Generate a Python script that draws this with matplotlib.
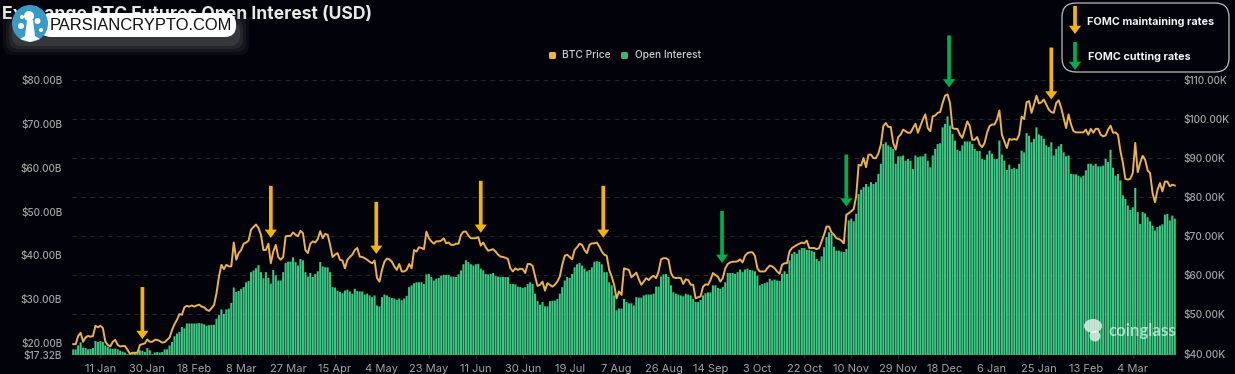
import matplotlib
matplotlib.use("Agg")
import matplotlib.pyplot as plt
from matplotlib.patches import FancyBboxPatch, FancyArrowPatch, Polygon, Ellipse
from matplotlib.transforms import Affine2D

open_interest_b = [
 18.6,18.6,19.5,20.2,19.0,18.9,18.6,18.7,18.9,20.5,
 20.3,20.5,20.3,19.5,19.2,18.8,18.7,18.8,18.6,18.3,
 18.1,17.9,17.5,17.5,17.7,17.8,18.0,18.4,18.3,18.0,
 18.9,18.4,17.5,17.9,18.0,17.9,18.0,18.6,18.6,19.5,
 20.3,21.6,22.2,22.6,23.7,23.4,24.5,24.5,24.5,24.5,
 24.5,24.6,24.5,24.3,24.0,24.1,24.2,24.2,25.6,26.4,
 27.7,26.7,27.7,27.9,29.2,32.7,31.7,31.9,32.4,32.8,
 33.9,34.2,36.2,36.6,37.1,37.8,36.2,34.8,36.2,34.9,
 33.6,36.7,35.5,34.3,34.3,36.2,38.3,38.6,38.6,39.6,
 38.5,37.7,39.2,38.9,36.2,35.2,36.0,35.1,35.8,36.4,
 38.5,37.5,37.3,37.3,36.2,32.8,32.7,32.0,31.7,31.4,
 32.0,32.2,31.8,31.3,32.4,31.9,31.8,31.8,31.1,31.3,
 30.9,30.5,30.9,28.6,28.4,30.5,31.1,30.9,30.5,30.3,
 30.2,29.9,30.2,29.8,30.2,30.8,32.8,33.2,33.7,33.9,
 33.9,33.9,33.5,35.7,35.8,35.1,34.3,34.7,34.9,35.4,
 35.6,35.6,35.6,35.2,35.2,35.1,35.7,36.6,38.0,38.9,
 38.5,38.0,37.7,38.0,38.1,37.0,36.6,35.8,35.7,35.8,
 36.0,35.4,35.2,35.1,35.1,35.1,35.1,33.5,33.5,33.4,
 32.9,32.8,32.6,32.8,33.5,33.9,33.5,31.3,29.6,28.8,
 29.4,28.4,28.4,29.6,29.7,29.7,30.1,31.3,32.8,34.3,
 35.1,34.9,35.8,37.3,38.0,38.3,37.7,37.0,36.4,36.7,
 37.3,38.6,38.7,38.5,38.0,36.2,36.2,33.9,33.2,30.9,
 27.5,27.9,27.9,30.1,29.4,29.1,29.1,28.6,30.5,30.4,
 30.4,30.9,31.1,31.1,31.1,31.3,32.9,32.9,35.2,35.7,
 35.8,35.1,33.2,31.6,31.3,31.1,30.9,30.7,31.3,31.1,
 30.9,30.1,29.4,29.4,29.9,30.9,31.4,31.6,31.6,33.2,
 33.2,32.6,32.4,32.8,33.9,36.0,36.0,36.0,35.8,36.2,
 36.8,36.2,36.8,37.0,36.7,36.6,36.4,35.4,33.2,33.5,
 33.7,33.9,34.7,34.3,34.5,34.3,34.2,35.8,36.4,35.8,
 38.9,40.4,40.8,40.4,41.3,41.7,41.7,41.3,41.3,41.1,
 40.8,39.2,38.7,39.8,41.9,44.2,45.3,44.9,42.0,41.1,
 41.1,40.9,40.8,41.5,48.0,48.4,47.8,49.5,54.0,55.0,
 55.6,56.3,55.7,56.7,56.3,56.7,58.6,60.9,65.4,65.8,
 65.1,64.7,64.3,60.9,62.6,62.6,62.8,61.6,62.0,61.6,
 59.7,62.8,62.4,62.6,62.6,63.2,61.6,60.1,62.8,64.3,
 65.4,65.6,69.2,70.0,71.7,69.6,67.7,66.2,64.1,63.8,
 65.1,66.0,66.0,66.0,65.4,64.3,63.8,63.8,62.0,61.8,
 63.0,63.9,63.2,62.0,62.0,66.2,63.0,61.6,59.5,60.7,
 59.7,60.0,59.7,60.9,63.9,63.5,67.9,67.3,65.8,66.6,
 69.2,67.6,67.3,66.6,65.1,64.7,65.8,62.8,64.3,64.9,
 65.4,63.5,62.6,62.8,58.6,58.5,58.5,58.2,57.8,58.2,
 59.4,60.9,60.9,60.5,60.9,60.3,60.3,60.5,62.0,61.3,
 64.1,60.0,58.2,58.6,57.1,53.7,52.9,51.4,50.4,51.0,
 55.4,49.9,47.2,49.9,49.6,48.7,47.8,46.8,45.7,46.5,
 46.8,47.1,49.3,49.5,48.0,49.1,48.4]

btc_price_k = [
 42.4,42.4,44.5,45.3,43.0,44.1,44.5,44.3,44.5,47.1,
 46.7,47.1,46.5,43.0,42.2,41.8,43.0,43.5,42.2,41.8,
 41.9,41.9,40.9,39.9,40.2,40.2,40.2,42.2,42.4,42.6,
 43.6,43.0,43.0,43.5,43.5,43.2,42.8,42.9,43.5,44.1,
 46.0,47.5,48.6,50.1,49.9,51.8,52.2,52.0,52.3,52.0,
 52.3,52.5,52.0,51.8,51.2,50.9,51.6,52.4,55.4,59.7,
 62.7,61.6,62.7,62.3,62.3,68.4,64.0,65.7,66.5,68.1,
 68.4,68.9,71.7,72.4,73.0,72.1,70.4,66.5,66.5,68.1,
 63.1,66.1,67.8,64.7,64.0,64.7,70.0,70.1,70.1,71.0,
 70.4,70.0,71.4,70.8,66.5,65.7,68.1,68.7,68.4,69.3,
 71.3,69.5,70.6,70.4,67.8,64.7,65.3,65.7,64.0,63.8,
 61.8,64.0,64.7,65.3,66.5,67.0,64.8,64.7,64.4,64.0,
 63.5,63.1,63.8,59.3,58.4,61.4,63.5,64.3,64.1,63.5,
 62.3,61.4,62.9,61.0,61.0,61.4,62.9,61.8,66.5,66.1,
 67.2,67.0,66.7,71.2,69.5,68.7,68.1,68.7,68.7,68.9,
 69.5,68.2,68.4,67.8,67.8,68.1,68.1,70.4,71.2,71.2,
 70.2,69.5,69.5,69.5,69.8,67.6,68.4,67.2,66.3,66.5,
 66.7,66.1,65.3,64.8,64.7,64.5,64.2,61.8,61.0,61.8,
 61.4,61.7,61.6,60.6,62.9,62.9,62.4,59.7,57.3,57.6,
 58.4,56.1,58.0,57.6,57.1,57.6,58.4,59.7,62.7,65.0,
 65.3,64.7,64.1,66.5,67.2,68.1,67.8,66.5,65.7,67.8,
 68.2,68.2,68.4,67.4,66.1,65.3,65.0,61.4,59.7,57.6,
 54.1,55.9,55.0,61.8,61.6,61.4,59.5,60.1,60.7,59.0,
 57.6,58.4,59.3,58.8,59.5,59.9,59.3,61.0,64.1,64.4,
 64.4,64.0,60.6,59.5,59.3,59.4,59.3,57.8,59.0,58.8,
 57.6,57.6,54.1,54.4,54.6,57.1,57.7,57.6,58.8,60.6,
 60.1,59.7,58.4,59.3,61.8,62.9,63.3,63.5,63.5,63.6,
 64.1,63.3,65.0,65.7,65.9,65.9,65.0,61.8,61.0,61.0,
 61.0,61.8,62.5,62.3,61.8,61.0,60.4,62.7,63.1,63.1,
 66.1,67.0,67.4,67.8,68.1,68.4,68.2,68.9,67.0,67.0,
 67.0,66.7,67.0,68.7,70.4,72.5,72.5,71.0,70.4,69.5,
 69.3,68.9,68.2,75.5,75.9,76.4,77.0,80.2,88.3,88.1,
 90.0,87.7,90.9,90.9,90.0,90.0,91.2,93.5,98.2,99.0,
 98.0,98.0,93.9,92.2,95.4,96.0,97.3,96.9,96.5,96.5,
 97.7,98.8,96.5,98.2,99.9,101.2,97.7,96.9,100.7,100.9,
 101.6,101.8,104.1,106.0,106.3,104.1,97.7,97.5,97.5,96.0,
 95.2,97.3,99.4,98.2,94.7,94.7,95.4,93.5,92.8,93.9,
 96.5,98.2,98.6,98.6,99.9,102.2,96.0,94.3,92.6,94.9,
 94.7,94.9,94.7,96.0,100.6,100.0,104.3,104.6,101.6,103.7,
 106.0,104.0,104.3,105.0,103.7,102.4,101.8,101.6,104.1,104.8,
 102.9,100.3,97.7,101.2,98.6,96.9,96.6,96.6,96.6,96.6,
 97.3,96.0,97.5,96.5,97.5,97.5,96.0,95.6,95.8,97.3,
 98.3,96.5,96.6,96.0,91.8,88.8,84.7,84.5,84.7,86.2,
 93.9,86.4,88.8,90.6,89.6,86.9,86.2,81.1,78.7,81.9,
 83.6,81.5,84.0,84.0,82.8,83.2,83.0]

x_tick_days = [11, 30, 49, 68, 87, 106, 125, 144, 163, 182, 201, 220,
               239, 258, 277, 296, 315, 334, 353, 372, 391, 410, 429]
x_tick_labels = ["11 Jan", "30 Jan", "18 Feb", "8 Mar", "27 Mar", "15 Apr", "4 May", "23 May",
                 "11 Jun", "30 Jun", "19 Jul", "7 Aug", "26 Aug", "14 Sep", "3 Oct", "22 Oct",
                 "10 Nov", "29 Nov", "18 Dec", "6 Jan", "25 Jan", "13 Feb", "4 Mar"]
left_ticks = [17.32, 20, 30, 40, 50, 60, 70, 80]
right_ticks = [40, 50, 60, 70, 80, 90, 100, 110]

hold_days = [28, 80, 122.7, 165, 214.6, 396]
hold_tips = [43.7, 69.6, 65.5, 70.9, 69.6, 105.0]
cut_days = [262.7, 313, 354.6]
cut_tips = [63.2, 77.6, 108.1]

BG = "#02030A"
ORANGE = "#F5B400"
GREEN = "#00AD4E"
LINE = "#EDB24A"
BAR = "#3DC884"
LEGEND_BAR = "#36B778"
GREY = "#A3A3A3"
W, H = 1235, 374

plt.rcParams["font.family"] = ["Inter", "DejaVu Sans"]
fig = plt.figure(figsize=(W / 100, H / 100), dpi=100, facecolor=BG)
rect = [72 / W, 1 - 355 / H, (1176 - 72) / W, (355 - 80) / H]
px = Affine2D().scale(1 / W, -1 / H).translate(0, 1) + fig.transFigure

days = list(range(len(open_interest_b)))
xlim = (-0.5, len(days) - 0.5)

ax_r = fig.add_axes(rect, facecolor=BG, zorder=1)
ax_r.set_xlim(xlim)
ax_r.set_ylim(39.62, 110)
ax_r.yaxis.tick_right()
ax_r.set_yticks(right_ticks)
ax_r.set_yticklabels([f"${v:.2f}K" for v in right_ticks], color=GREY, fontsize=7.3, fontweight="medium")
ax_r.tick_params(axis="y", length=0, pad=5.5)
ax_r.set_xticks([])
ax_r.grid(axis="y", color="#262626", lw=0.8, dashes=(4, 4))
ax_r.set_axisbelow(True)

ax = fig.add_axes(rect, facecolor="none", zorder=2)
bars = ax.bar(days, open_interest_b, width=0.82, color=BAR, linewidth=0)
for b in bars:
    b.set_snap(False)
ax.set_xlim(xlim)
ax.set_ylim(17.32, 80)
ax.set_yticks(left_ticks)
ax.set_yticklabels([f"${v:.2f}B" for v in left_ticks], color=GREY, fontsize=7.2, fontweight="medium")
ax.tick_params(axis="y", length=0, pad=7)
ax.set_xticks(x_tick_days)
ax.set_xticklabels(x_tick_labels, color=GREY, fontsize=8.0)
ax.tick_params(axis="x", length=2.5, width=0.6, color="#333333", pad=4)

ax_l = fig.add_axes(rect, facecolor="none", zorder=3)
ax_l.plot(days, btc_price_k, color=LINE, lw=1.4, solid_joinstyle="round")
ax_l.set_xlim(xlim)
ax_l.set_ylim(39.62, 110)
ax_l.axis("off")

for a in (ax_r, ax, ax_l):
    for s in a.spines.values():
        s.set_visible(False)

arrow_style = "simple,head_length=0.85,head_width=1.25,tail_width=0.38"


def fomc_arrows(xs, tips, colour):
    for d, k in zip(xs, tips):
        ax_l.annotate("", xy=(d, k), xytext=(0, 52), textcoords="offset pixels",
                      arrowprops=dict(arrowstyle=arrow_style, color=colour, lw=0,
                                      mutation_scale=7, shrinkA=0, shrinkB=0))


fomc_arrows(hold_days, hold_tips, ORANGE)
fomc_arrows(cut_days, cut_tips, GREEN)

fig.text(2 / W, 1 - 14 / H, "Exchange BTC Futures Open Interest (USD)", color="#E8E8E8",
         fontsize=12.6, fontweight="bold", va="center", ha="left", zorder=5)
for x0, c, label, tx in [(549, LINE, "BTC Price", 562), (621, LEGEND_BAR, "Open Interest", 635)]:
    fig.add_artist(FancyBboxPatch((x0, 52), 7, 7, boxstyle="round,pad=0,rounding_size=1.5",
                                  fc=c, ec="none", transform=px, zorder=5))
    fig.text(tx / W, 1 - 55 / H, label, color="#CFCFCF", fontsize=7.3, fontweight="medium",
             va="center", ha="left", zorder=5)

fig.add_artist(FancyBboxPatch((1062, 3), 167, 69, boxstyle="round,pad=0,rounding_size=14",
                              fc=BG, ec="#BDBDBD", lw=0.9, transform=px, zorder=6))
for y0, y1, c, label, tx, ty in [(6, 34, ORANGE, "FOMC maintaining rates", 1087, 22),
                                 (42, 70, GREEN, "FOMC cutting rates", 1088, 57)]:
    fig.add_artist(FancyArrowPatch((1075, y0), (1075, y1), transform=px, arrowstyle=arrow_style,
                                   color=c, lw=0, mutation_scale=7, shrinkA=0, shrinkB=0, zorder=8))
    fig.text(tx / W, 1 - ty / H, label, color="#F2F2F2", fontsize=7.8, fontweight="bold",
             va="center", ha="left", zorder=7)

for grow, alpha in [(11, 0.10), (8, 0.12), (5, 0.18), (2, 0.25)]:
    fig.add_artist(FancyBboxPatch((14 - grow, 24 - grow), 224 + 2 * grow, 20 + 2 * grow,
                                  boxstyle="round,pad=0,rounding_size=10", fc="#6A6A6A", ec="none",
                                  alpha=alpha, transform=px, zorder=6))
fig.add_artist(FancyBboxPatch((40, 13), 196, 24, boxstyle="round,pad=0,rounding_size=11",
                              fc="white", ec="none", transform=px, zorder=7))
fig.text(140.5 / W, 1 - 25.5 / H, "PARSIANCRYPTO.COM", color="#111111", fontsize=11.9,
         family=["Liberation Sans"], va="center", ha="center", zorder=8)
fig.add_artist(Ellipse((30, 23.5), 36, 37, fc="#3A9AC5", ec="none", transform=px, zorder=9))
fig.add_artist(Polygon([(27, 20), (33, 20), (35, 36), (40, 39), (30, 42), (20, 39), (25, 36)],
                       closed=True, fc="white", ec="none", transform=px, zorder=10))
for cx, cy, r in [(29, 16, 5), (37.5, 21, 3), (21, 26, 3), (22, 17, 2), (41, 30, 2)]:
    fig.add_artist(Ellipse((cx, cy), 2 * r, 2 * r, fc="white", ec="none", transform=px, zorder=10))

fig.add_artist(Ellipse((1093, 326), 18, 14, fc="white", ec="none", alpha=0.7, transform=px, zorder=5))
fig.add_artist(Ellipse((1095, 336), 11, 11, fc="white", ec="none", alpha=0.7, transform=px, zorder=5))
fig.text(1108 / W, 1 - 331 / H, "coinglass", color="white", alpha=0.65, fontsize=12.2,
         fontweight="semibold", family=["Lato", "DejaVu Sans"], va="center", ha="left", zorder=5)

fig.savefig("out.png", dpi=100, facecolor=BG)
